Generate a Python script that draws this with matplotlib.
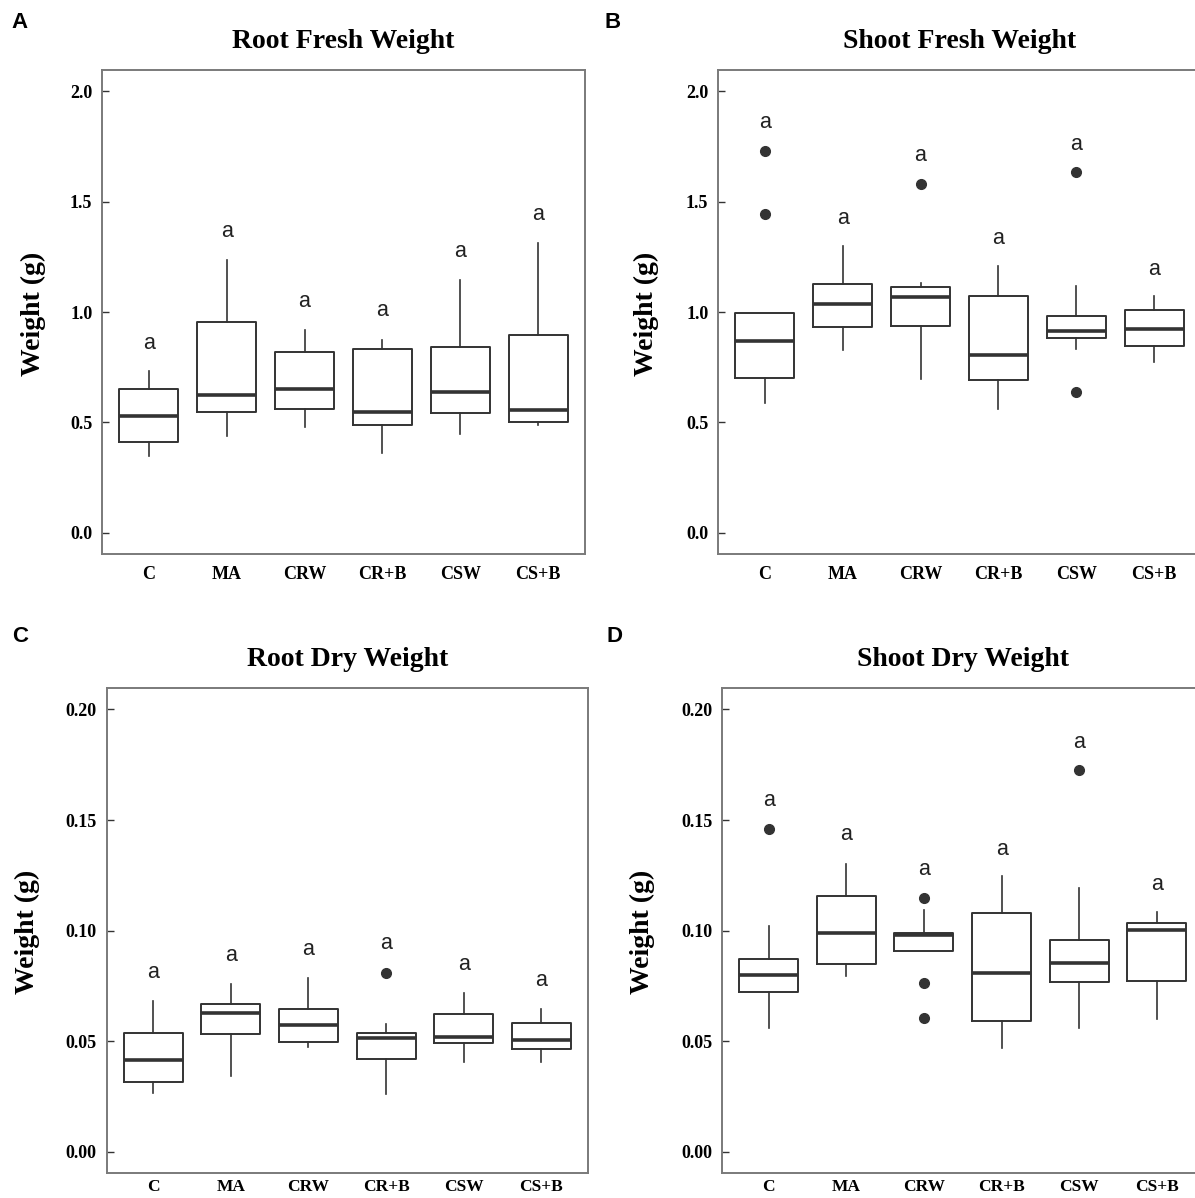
import matplotlib
matplotlib.use("Agg")
import matplotlib.pyplot as plt

# ---------------- data ----------------
groups = ["C", "MA", "CRW", "CR+B", "CSW", "CS+B"]

# Root Fresh Weight (A)
rfw_lo  = [0.349, 0.439, 0.480, 0.363, 0.448, 0.488]
rfw_q1  = [0.410, 0.546, 0.563, 0.488, 0.544, 0.502]
rfw_med = [0.528, 0.624, 0.650, 0.546, 0.640, 0.556]
rfw_q3  = [0.650, 0.954, 0.818, 0.833, 0.840, 0.896]
rfw_hi  = [0.732, 1.235, 0.919, 0.875, 1.147, 1.313]
rfw_out = [[], [], [], [], [], []]
rfw_lab_y = [0.858, 1.364, 1.050, 1.006, 1.273, 1.444]
rfw_lab = ["a", "a", "a", "a", "a", "a"]

# Shoot Fresh Weight (B)
sfw_lo  = [0.588, 0.828, 0.697, 0.561, 0.833, 0.776]
sfw_q1  = [0.701, 0.933, 0.938, 0.692, 0.881, 0.846]
sfw_med = [0.868, 1.037, 1.067, 0.806, 0.915, 0.924]
sfw_q3  = [0.994, 1.128, 1.116, 1.072, 0.982, 1.008]
sfw_hi  = [0.994, 1.299, 1.133, 1.208, 1.119, 1.072]
sfw_out = [[1.731, 1.444], [], [1.582], [], [1.636, 0.636], []]
sfw_lab_y = [1.857, 1.426, 1.709, 1.334, 1.758, 1.194]
sfw_lab = ["a", "a", "a", "a", "a", "a"]

# Root Dry Weight (C)
rdw_lo  = [0.0266, 0.0344, 0.0473, 0.0264, 0.0405, 0.0405]
rdw_q1  = [0.0318, 0.0535, 0.0495, 0.0422, 0.0492, 0.0466]
rdw_med = [0.0414, 0.0626, 0.0572, 0.0516, 0.0518, 0.0507]
rdw_q3  = [0.0540, 0.0669, 0.0648, 0.0540, 0.0624, 0.0582]
rdw_hi  = [0.0681, 0.0761, 0.0785, 0.0579, 0.0718, 0.0646]
rdw_out = [[], [], [], [0.0811], [], []]
rdw_lab_y = [0.0811, 0.0886, 0.0916, 0.0942, 0.0846, 0.0773]
rdw_lab = ["a", "a", "a", "a", "a", "a"]

# Shoot Dry Weight (D)
sdw_lo  = [0.0560, 0.0796, 0.0907, 0.0469, 0.0560, 0.0603]
sdw_q1  = [0.0721, 0.0850, 0.0907, 0.0591, 0.0770, 0.0773]
sdw_med = [0.0799, 0.0989, 0.0982, 0.0808, 0.0855, 0.1004]
sdw_q3  = [0.0874, 0.1156, 0.0990, 0.1081, 0.0956, 0.1037]
sdw_hi  = [0.1020, 0.1303, 0.1093, 0.1246, 0.1194, 0.1086]
sdw_out = [[0.1460], [], [0.1150, 0.0763, 0.0605], [], [0.1725], []]
sdw_lab_y = [0.1590, 0.1434, 0.1277, 0.1369, 0.1849, 0.1208]
sdw_lab = ["a", "a", "a", "a", "a", "a"]

fresh_ticks = [0.0, 0.5, 1.0, 1.5, 2.0]
fresh_ticklabels = ["0.0", "0.5", "1.0", "1.5", "2.0"]
dry_ticks = [0.00, 0.05, 0.10, 0.15, 0.20]
dry_ticklabels = ["0.00", "0.05", "0.10", "0.15", "0.20"]

# ---------------- figure ----------------
W, H = 1195, 1198
fig = plt.figure(figsize=(W / 100, H / 100), dpi=100)

SERIF = ["Liberation Serif", "DejaVu Serif"]
SANS = ["Liberation Sans", "DejaVu Sans"]
DARK = "#333333"
FRAME = "#7a7a7a"


def px_axes(left, top, right, bottom):
    return fig.add_axes([left / W, 1 - bottom / H, (right - left) / W, (bottom - top) / H])


panels = [
    dict(rect=(102, 70, 585, 554), letter="A", lpos=(19, 23), title="Root Fresh Weight",
         lo=rfw_lo, q1=rfw_q1, med=rfw_med, q3=rfw_q3, hi=rfw_hi, out=rfw_out,
         laby=rfw_lab_y, lab=rfw_lab, ylim=(-0.096, 2.097), ticks=fresh_ticks,
         ticklabels=fresh_ticklabels, ylx=-0.143, xpad=9, xfs=13),
    dict(rect=(718, 70, 1201, 554), letter="B", lpos=(613, 23), title="Shoot Fresh Weight",
         lo=sfw_lo, q1=sfw_q1, med=sfw_med, q3=sfw_q3, hi=sfw_hi, out=sfw_out,
         laby=sfw_lab_y, lab=sfw_lab, ylim=(-0.096, 2.097), ticks=fresh_ticks,
         ticklabels=fresh_ticklabels, ylx=-0.149, xpad=9, xfs=13),
    dict(rect=(106.5, 688, 588, 1173), letter="C", lpos=(20, 636), title="Root Dry Weight",
         lo=rdw_lo, q1=rdw_q1, med=rdw_med, q3=rdw_q3, hi=rdw_hi, out=rdw_out,
         laby=rdw_lab_y, lab=rdw_lab, ylim=(-0.0095, 0.2097), ticks=dry_ticks,
         ticklabels=dry_ticklabels, ylx=-0.165, xpad=4, xfs=12.5),
    dict(rect=(722, 688, 1203.5, 1173), letter="D", lpos=(615, 636), title="Shoot Dry Weight",
         lo=sdw_lo, q1=sdw_q1, med=sdw_med, q3=sdw_q3, hi=sdw_hi, out=sdw_out,
         laby=sdw_lab_y, lab=sdw_lab, ylim=(-0.0095, 0.2097), ticks=dry_ticks,
         ticklabels=dry_ticklabels, ylx=-0.166, xpad=4, xfs=12.5),
]

positions = list(range(1, len(groups) + 1))

for p in panels:
    ax = px_axes(*p["rect"])
    stats = []
    for i, g in enumerate(groups):
        stats.append(dict(label=g, med=p["med"][i], q1=p["q1"][i], q3=p["q3"][i],
                          whislo=p["lo"][i], whishi=p["hi"][i], fliers=p["out"][i]))
    ax.bxp(stats, positions=positions, widths=0.76, showcaps=False, patch_artist=False,
           boxprops=dict(color=DARK, linewidth=1.4),
           whiskerprops=dict(color=DARK, linewidth=1.2),
           medianprops=dict(color=DARK, linewidth=2.6, solid_capstyle="butt"),
           flierprops=dict(marker="o", markersize=7, markerfacecolor=DARK,
                           markeredgecolor=DARK, linestyle="none"))
    for i, (x, y) in enumerate(zip(positions, p["laby"])):
        ax.text(x, y, p["lab"][i], ha="center", va="center", fontsize=15.5,
                family=SANS, color="#222222")
    ax.set_xlim(0.4, 6.6)
    ax.set_ylim(*p["ylim"])
    ax.set_yticks(p["ticks"])
    ax.set_yticklabels(p["ticklabels"], family=SERIF, fontweight="bold", fontsize=13)
    ax.set_xticks(positions)
    ax.set_xticklabels(groups, family=SERIF, fontweight="bold", fontsize=p["xfs"])
    ax.tick_params(axis="y", direction="in", length=5, width=1.0, color=DARK, pad=7)
    ax.tick_params(axis="x", length=0, pad=p["xpad"])
    for s in ax.spines.values():
        s.set_color(FRAME)
        s.set_linewidth(1.4)
    ax.set_ylabel("Weight (g)", family=SERIF, fontweight="bold", fontsize=20)
    ax.yaxis.label.set_verticalalignment("center")
    ax.yaxis.set_label_coords(p["ylx"], 0.497)
    ax.text(0.5, 1.058, p["title"], transform=ax.transAxes, ha="center", va="center",
            family=SERIF, fontweight="bold", fontsize=20)
    lx, ly = p["lpos"]
    fig.text(lx / W, 1 - ly / H, p["letter"], ha="center", va="center",
             family=SANS, fontweight="bold", fontsize=16)

fig.savefig("out.png", dpi=100)
